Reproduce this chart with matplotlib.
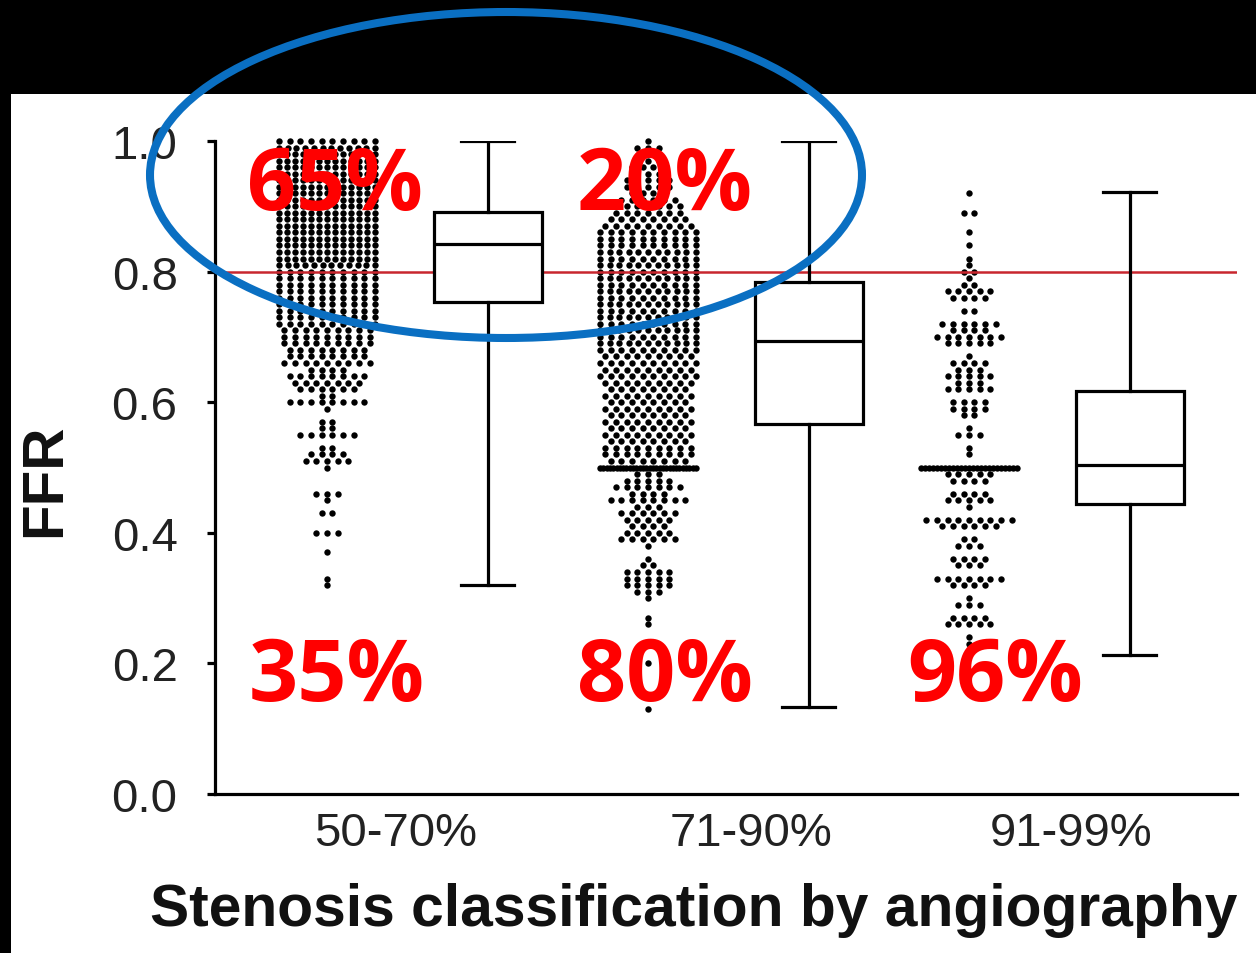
import numpy as np
import matplotlib
matplotlib.use('Agg')
import matplotlib.pyplot as plt
from matplotlib.patches import Rectangle, Ellipse

W, H, DPI = 1256, 954, 100

categories = ['50-70%', '71-90%', '91-99%']

# Dot plot: FFR value and number of lesions at that value
ffr_50_70_values = [1.00, 0.99, 0.98, 0.97, 0.96, 0.95, 0.94, 0.93, 0.92, 0.91,
                    0.90, 0.89, 0.88, 0.87, 0.86, 0.85, 0.84, 0.83, 0.82, 0.81,
                    0.80, 0.79, 0.78, 0.77, 0.76, 0.75, 0.74, 0.73, 0.72,
                    0.71, 0.70, 0.69, 0.68, 0.67, 0.66, 0.65, 0.64, 0.63, 0.62,
                    0.61, 0.60, 0.59, 0.57, 0.56, 0.55, 0.53, 0.52, 0.51, 0.50,
                    0.46, 0.45, 0.43, 0.40, 0.37, 0.33, 0.32]
ffr_50_70_counts = [10, 12, 13, 13, 13, 13, 13, 13, 13, 13,
                    13, 13, 13, 13, 13, 13, 13, 13, 13, 12,
                    10, 10, 10, 10, 10, 10, 10, 10, 10,
                    9, 9, 9, 8, 8, 9, 4, 8, 7, 6,
                    2, 8, 1, 2, 2, 6, 2, 4, 5, 1,
                    3, 1, 2, 3, 1, 1, 1]

ffr_71_90_values = [1.00, 0.99, 0.98, 0.97, 0.96, 0.95, 0.94, 0.93, 0.92, 0.91,
                    0.90, 0.89, 0.88, 0.87, 0.86, 0.85, 0.84, 0.83, 0.82, 0.81,
                    0.80, 0.79, 0.78, 0.77, 0.76, 0.75, 0.74, 0.73, 0.72, 0.71,
                    0.70, 0.69, 0.68, 0.67, 0.66, 0.65, 0.64, 0.63, 0.62, 0.61,
                    0.60, 0.59, 0.58, 0.57, 0.56, 0.55, 0.54, 0.53, 0.52, 0.51,
                    0.50, 0.49, 0.48, 0.47, 0.46, 0.45, 0.44, 0.43, 0.42, 0.41,
                    0.40, 0.39, 0.38, 0.36, 0.35, 0.34, 0.33, 0.32, 0.31, 0.30,
                    0.27, 0.26, 0.20, 0.13]
ffr_71_90_counts = [1, 3, 2, 3, 4, 3, 5, 5, 4, 6,
                    7, 7, 8, 9, 10, 10, 10, 11, 10, 11,
                    10, 11, 10, 11, 10, 11, 10, 11, 10, 11,
                    10, 11, 10, 9, 10, 9, 10, 9, 8, 9,
                    8, 9, 8, 9, 8, 9, 8, 9, 9, 8,
                    30, 3, 5, 7, 4, 8, 3, 6, 5, 4,
                    5, 6, 1, 1, 2, 5, 5, 5, 3, 1,
                    1, 1, 1, 1]

ffr_91_99_values = [0.92, 0.89, 0.86, 0.84, 0.82, 0.81, 0.80, 0.79, 0.78, 0.77,
                    0.76, 0.74, 0.72, 0.71, 0.70, 0.69, 0.67, 0.66, 0.65, 0.64,
                    0.63, 0.62, 0.60, 0.59, 0.58, 0.56, 0.55, 0.53, 0.52, 0.50,
                    0.49, 0.48, 0.46, 0.45, 0.44, 0.42, 0.41, 0.39, 0.38, 0.36,
                    0.35, 0.33, 0.32, 0.30, 0.29, 0.27, 0.26, 0.24, 0.23]
ffr_91_99_counts = [1, 2, 1, 1, 1, 1, 2, 1, 2, 5,
                    4, 2, 6, 4, 7, 5, 1, 4, 3, 5,
                    3, 5, 4, 4, 2, 1, 3, 1, 1, 25,
                    5, 4, 4, 5, 1, 9, 6, 2, 3, 4,
                    3, 7, 4, 1, 3, 4, 5, 1, 1]

# Box plot statistics
box_whisker_low = [0.32, 0.133, 0.213]
box_q1 = [0.753, 0.566, 0.444]
box_median = [0.842, 0.693, 0.504]
box_q3 = [0.891, 0.784, 0.617]
box_whisker_high = [1.00, 1.00, 0.922]

cutoff = 0.80
pct_above = ['65%', '20%']
pct_below = ['35%', '80%', '96%']

# ---------------------------------------------------------------- layout
fig = plt.figure(figsize=(W / DPI, H / DPI), dpi=DPI, facecolor='black')


def fx(p):
    return p / W


def fy(p):
    return 1 - p / H


fig.add_artist(Rectangle((fx(11), 0), 1 - fx(11), fy(95), transform=fig.transFigure,
                         facecolor='white', edgecolor='none', zorder=-10))

ax_l, ax_r, ax_t, ax_b = 215, 1237, 142, 795
ax = fig.add_axes([fx(ax_l), fy(ax_b), (ax_r - ax_l) / W, (ax_b - ax_t) / H])
ax.patch.set_visible(False)

PX = 321.0  # pixels per category unit
xmin = -(327 - ax_l) / PX
ax.set_xlim(xmin, xmin + (ax_r - ax_l) / PX)
ax.set_ylim(0, 1.0)

# dots
groups = [(ffr_50_70_values, ffr_50_70_counts),
          (ffr_71_90_values, ffr_71_90_counts),
          (ffr_91_99_values, ffr_91_99_counts)]
for i, (vals, cnts) in enumerate(groups):
    xs, ys = [], []
    for v, n in zip(vals, cnts):
        step = min(10.7, 96.0 / (n - 1)) if n > 1 else 0.0
        offs = (np.arange(n) - (n - 1) / 2.0) * step / PX
        xs.extend(i + offs)
        ys.extend([v] * n)
    ax.plot(xs, ys, 'o', ms=4.6, mew=0, color='black', clip_on=False, zorder=2)

# cutoff line
ax.axhline(cutoff, color='#c8262e', lw=1.8, zorder=3)

# boxes
stats = []
for k in range(3):
    stats.append(dict(med=box_median[k], q1=box_q1[k], q3=box_q3[k],
                      whislo=box_whisker_low[k], whishi=box_whisker_high[k], fliers=[]))
lw = 2.3
ax.bxp(stats, positions=[k + 0.5 for k in range(3)], widths=108 / PX,
       capwidths=53 / PX, patch_artist=True, showfliers=False, manage_ticks=False,
       boxprops=dict(facecolor='white', edgecolor='black', linewidth=lw),
       medianprops=dict(color='black', linewidth=lw),
       whiskerprops=dict(color='black', linewidth=lw),
       capprops=dict(color='black', linewidth=lw), zorder=4)

# axes styling
for s in ['top', 'right']:
    ax.spines[s].set_visible(False)
for s in ['left', 'bottom']:
    ax.spines[s].set_linewidth(2.3)
ax.set_yticks([0.0, 0.2, 0.4, 0.6, 0.8, 1.0])
ax.set_yticklabels(['0.0', '0.2', '0.4', '0.6', '0.8', '1.0'])
label_pos = [(396 - ax_l) / PX + xmin, (751 - ax_l) / PX + xmin, (1071 - ax_l) / PX + xmin]
ax.set_xticks(label_pos)
ax.set_xticklabels(categories)
ax.tick_params(axis='y', direction='out', length=6, width=2.3, pad=21,
               labelsize=34, labelcolor='#222222')
ax.tick_params(axis='x', length=0, pad=12, labelsize=34, labelcolor='#222222')
for t in ax.get_xticklabels() + ax.get_yticklabels():
    t.set_fontfamily('Liberation Sans')

fig.text(fx(694), fy(926), 'Stenosis classification by angiography', fontsize=42.3,
         fontweight='bold', family='Liberation Sans', color='#111111',
         ha='center', va='baseline')
fig.text(fx(45), fy(480), 'FFR', rotation=90, fontsize=42, fontweight='bold',
         family='Liberation Sans', color='#111111', ha='center', va='center')

# percentages
red_kw = dict(color='#ff0000', fontsize=62, fontweight='bold', family='Open Sans',
              ha='center', va='baseline', zorder=6)
for txt, cx in zip(pct_above, [335, 665]):
    fig.text(fx(cx), fy(210), txt, **red_kw)
for txt, cx in zip(pct_below, [337, 665, 995]):
    fig.text(fx(cx), fy(701), txt, **red_kw)

# highlight ellipse
fig.add_artist(Ellipse((fx(506), fy(176)), width=712 / W, height=326 / H,
                       transform=fig.transFigure, fill=False, edgecolor='#0a6fc2',
                       lw=5.8, zorder=10))

fig.savefig('out.png', dpi=DPI, facecolor='black')
